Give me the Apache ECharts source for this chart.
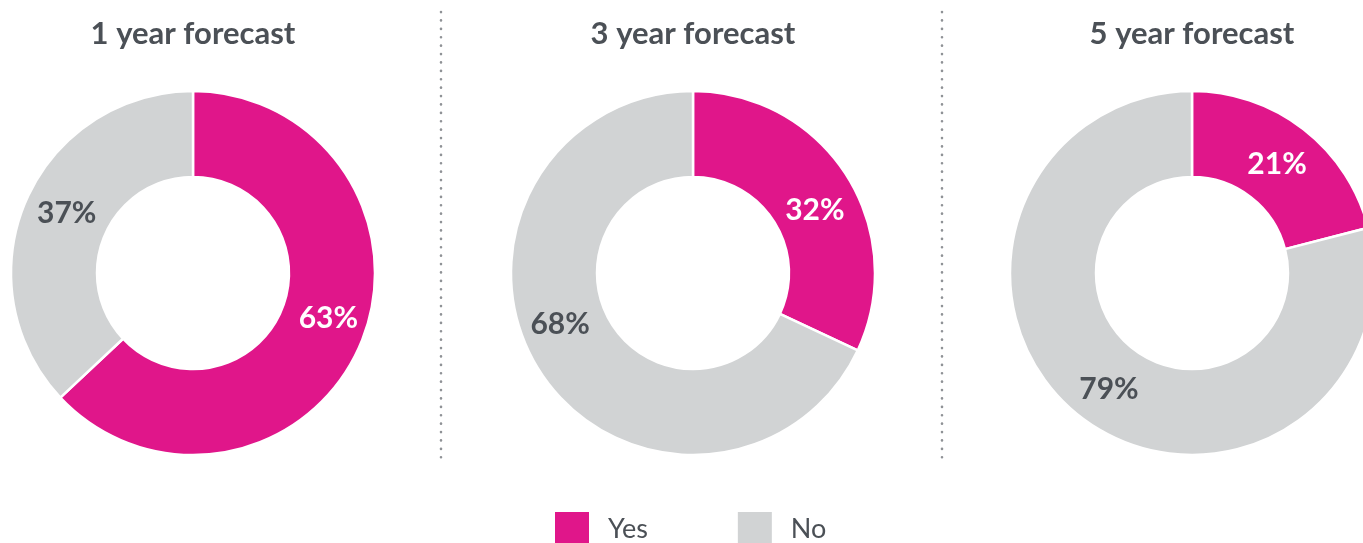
<!DOCTYPE html>
<html>
<head>
<meta charset="utf-8">
<script src="https://cdn.jsdelivr.net/npm/echarts@6/dist/echarts.min.js"></script>
<style>
  html, body { margin: 0; padding: 0; background: #ffffff; }
  #chart { width: 1363px; height: 543px; }
</style>
</head>
<body>
<div id="chart"></div>
<script>
// Survey answers per forecast horizon (percent of respondents)
const horizons = ['1 year forecast', '3 year forecast', '5 year forecast'];
const answers = ['Yes', 'No'];
const yesShare = [63, 32, 21];
const noShare = [37, 68, 79];

const YES_COLOR = '#E0168A';
const NO_COLOR = '#D1D3D4';
const TEXT_DARK = '#4B5056';
const FONT = 'Lato, "Open Sans", sans-serif';

// Pie layout: centre x of each donut, shared centre y and radii
const centersX = [193, 693, 1192];
const centerY = 273;
const radii = [96, 182];
// small per-label nudges so the percentages sit where the layout wants them
const labelNudge = [
  [[5, -11], [4, -3]],
  [[2, 13], [-13, -25]],
  [[-2, 4], [4, 4]]
];

const chart = echarts.init(document.getElementById('chart'), null, { renderer: 'canvas' });

const series = horizons.map((h, i) => ({
  type: 'pie',
  name: h,
  center: [centersX[i], centerY],
  radius: radii,
  startAngle: 90,
  clockwise: true,
  silent: true,
  animation: false,
  itemStyle: { borderColor: '#ffffff', borderWidth: 2.5 },
  label: {
    show: true,
    position: 'inside',
    formatter: '{c}%',
    fontFamily: FONT,
    fontSize: 30,
    fontWeight: 'bold'
  },
  labelLine: { show: false },
  emphasis: { disabled: true },
  data: [
    {
      name: answers[0], value: yesShare[i],
      itemStyle: { color: YES_COLOR },
      label: { color: '#ffffff', offset: labelNudge[i][0] }
    },
    {
      name: answers[1], value: noShare[i],
      itemStyle: { color: NO_COLOR },
      label: { color: TEXT_DARK, offset: labelNudge[i][1] }
    }
  ]
}));

const titles = horizons.map((h, i) => ({
  text: h,
  left: centersX[i],
  top: 18,
  padding: 0,
  textAlign: 'center',
  textStyle: { fontFamily: FONT, fontSize: 31, fontWeight: 'bold', color: TEXT_DARK }
}));

// dotted dividers between the three donuts
const dividers = [441, 942].map(x => ({
  type: 'line',
  silent: true,
  shape: { x1: x, y1: 12, x2: x, y2: 464 },
  style: { stroke: '#8F9296', lineWidth: 2.6, lineDash: [0.1, 8.3], lineCap: 'round' }
}));

chart.setOption({
  backgroundColor: '#ffffff',
  animation: false,
  title: titles,
  legend: {
    data: answers,
    left: 553,
    top: 510,
    padding: 0,
    itemWidth: 36,
    itemHeight: 36,
    itemGap: 88,
    icon: 'rect',
    selectedMode: false,
    textStyle: {
      fontFamily: FONT,
      fontSize: 27,
      color: TEXT_DARK,
      padding: [0, 0, 0, 13]
    }
  },
  graphic: dividers,
  series: series
});
</script>
</body>
</html>
